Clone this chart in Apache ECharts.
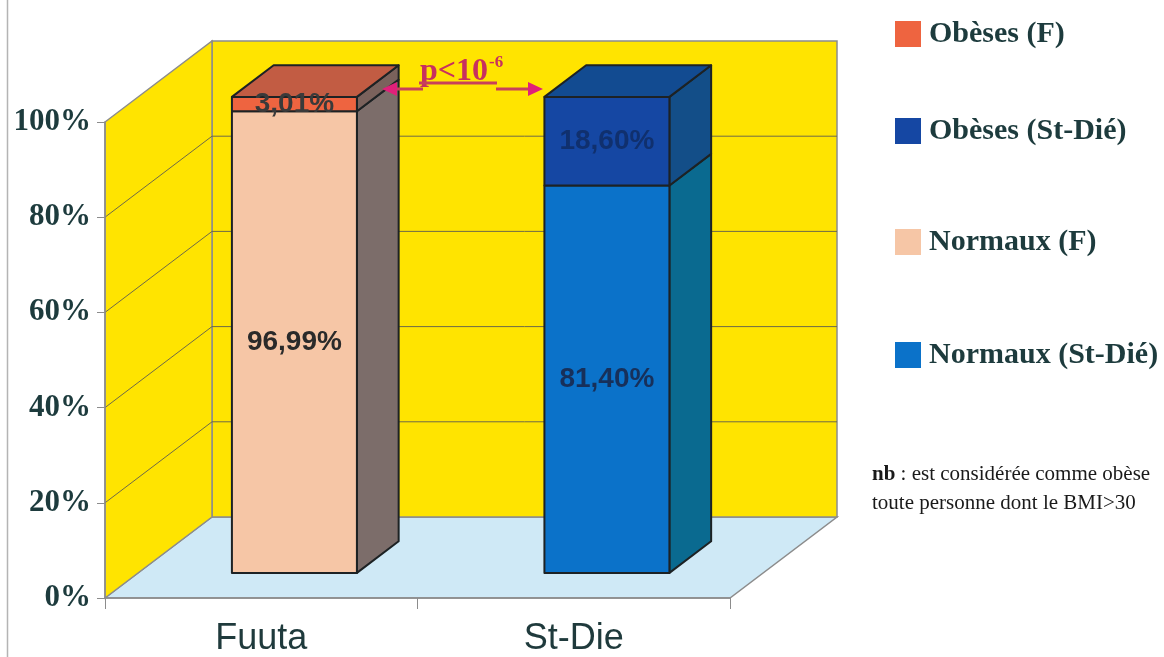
<!DOCTYPE html>
<html>
<head>
<meta charset="utf-8">
<script src="https://cdn.jsdelivr.net/npm/echarts@6/dist/echarts.min.js"></script>
<style>
  html, body { margin: 0; padding: 0; background: #ffffff; }
  #chart { width: 1164px; height: 657px; }
</style>
</head>
<body>
<div id="chart"></div>
<script>
// Share of obese vs normal-weight people, Fuuta and St-Dié
const categories = ['Fuuta', 'St-Die'];
const normaux = [96.99, 81.40];   // % normal weight
const obeses = [3.01, 18.60];     // % obese (BMI > 30)
const yTicks = [0, 20, 40, 60, 80, 100];
const legendNames = ['Obèses (F)', 'Obèses (St-Dié)', 'Normaux (F)', 'Normaux (St-Dié)'];
const noteLines = ['est considérée comme obèse', 'toute personne dont le BMI>30'];
const pText = 'p<10';
const pExp = '-6';

// pseudo-3D projection: full depth of the box, and where the bars sit inside it
const DEPTH = [107, -81];
const BAR_D0 = 0.31, BAR_D1 = 0.70;
const BAR_W = 0.4;

const palette = {
  'Normaux (F)':      { front: '#F6C6A6', side: '#7C6D6A', top: '#C25C43', label: '#2a2a2a' },
  'Obèses (F)':       { front: '#EE6440', side: '#7A625C', top: '#C25C43', label: '#3a3a3a' },
  'Normaux (St-Dié)': { front: '#0B72C9', side: '#0A6A90', top: '#124B91', label: '#17305a' },
  'Obèses (St-Dié)':  { front: '#1547A3', side: '#134E88', top: '#124B91', label: '#10306e' }
};

function fmtPct(v) { return v.toFixed(2).replace('.', ',') + '%'; }

function segmentRenderer(name) {
  const col = palette[name];
  return function (params, api) {
    const cat = api.value(0), start = api.value(1), val = api.value(2), isTop = api.value(3) === 1;
    const band = api.size([1, 0])[0];
    const w = band * BAR_W;
    const p0 = api.coord([cat, start]);
    const p1 = api.coord([cat, start + val]);
    const ox = DEPTH[0] * BAR_D0, oy = DEPTH[1] * BAR_D0;
    const dx = DEPTH[0] * (BAR_D1 - BAR_D0), dy = DEPTH[1] * (BAR_D1 - BAR_D0);
    const xl = p0[0] - w / 2 + ox, xr = p0[0] + w / 2 + ox;
    const yb = p0[1] + oy, yt = p1[1] + oy;
    const stroke = { stroke: '#1d2224', lineWidth: 2, lineJoin: 'round' };
    const children = [
      { type: 'polygon', shape: { points: [[xr, yb], [xr + dx, yb + dy], [xr + dx, yt + dy], [xr, yt]] },
        style: Object.assign({ fill: col.side }, stroke) },
      { type: 'polygon', shape: { points: [[xl, yb], [xr, yb], [xr, yt], [xl, yt]] },
        style: Object.assign({ fill: col.front }, stroke) }
    ];
    if (isTop) {
      children.push({ type: 'polygon', shape: { points: [[xl, yt], [xr, yt], [xr + dx, yt + dy], [xl + dx, yt + dy]] },
        style: Object.assign({ fill: col.top }, stroke) });
    }
    children.push({ type: 'text', z2: 10, style: {
      text: fmtPct(val), x: (xl + xr) / 2, y: (yb + yt) / 2,
      align: 'center', verticalAlign: 'middle',
      font: 'bold 28px "Liberation Sans", Arial, sans-serif', fill: col.label } });
    return { type: 'group', children: children };
  };
}

function wallsRenderer(params, api) {
  const cs = params.coordSys;
  const x0 = cs.x, x1 = cs.x + cs.width, yb = cs.y + cs.height, yt = cs.y;
  const [dx, dy] = DEPTH;
  const edge = { stroke: '#8c8c8c', lineWidth: 1.5 };
  const children = [
    // floor
    { type: 'polygon', shape: { points: [[x0, yb], [x1, yb], [x1 + dx, yb + dy], [x0 + dx, yb + dy]] },
      style: Object.assign({ fill: '#CFE9F6' }, edge) },
    // back wall
    { type: 'polygon', shape: { points: [[x0 + dx, yb + dy], [x1 + dx, yb + dy], [x1 + dx, yt + dy], [x0 + dx, yt + dy]] },
      style: Object.assign({ fill: '#FFE400' }, edge) },
    // side wall
    { type: 'polygon', shape: { points: [[x0, yb], [x0 + dx, yb + dy], [x0 + dx, yt + dy], [x0, yt]] },
      style: Object.assign({ fill: '#FFE400' }, edge) }
  ];
  yTicks.forEach(function (v) {
    if (v === 0 || v === 100) return;
    const y = api.coord([0, v])[1];
    children.push({ type: 'polyline', shape: { points: [[x0, y], [x0 + dx, y + dy], [x1 + dx, y + dy]] },
      style: { stroke: '#6e6a48', lineWidth: 1, fill: null } });
  });
  return { type: 'group', children: children };
}

const segments = [
  { name: 'Normaux (F)',      data: [[0, 0, normaux[0], 0]] },
  { name: 'Obèses (F)',       data: [[0, normaux[0], obeses[0], 1]] },
  { name: 'Normaux (St-Dié)', data: [[1, 0, normaux[1], 0]] },
  { name: 'Obèses (St-Dié)',  data: [[1, normaux[1], obeses[1], 1]] }
];

const legendTops = [19, 116, 227, 340];

const option = {
  animation: false,
  backgroundColor: '#ffffff',
  grid: { left: 105, top: 122, width: 625, height: 477, containLabel: false },
  xAxis: {
    type: 'category', data: categories, z: 10,
    axisLine: { lineStyle: { color: '#8c8c8c', width: 1.5 } },
    axisTick: { show: true, length: 11, lineStyle: { color: '#8c8c8c' } },
    axisLabel: { margin: 23, fontFamily: '"Liberation Sans", Arial, sans-serif', fontSize: 36, color: '#1f3a3c' },
    splitLine: { show: false }
  },
  yAxis: {
    type: 'value', min: 0, max: 100, interval: 20, z: 10,
    axisLine: { show: true, lineStyle: { color: '#8c8c8c', width: 1.5 } },
    axisTick: { show: true, length: 8, lineStyle: { color: '#8c8c8c' } },
    axisLabel: { formatter: '{value}%', margin: 14, fontFamily: '"Liberation Serif", "Times New Roman", serif',
      fontWeight: 'bold', fontSize: 31, color: '#1d3b3d' },
    splitLine: { show: false }
  },
  legend: legendNames.map(function (name, i) {
    return {
      data: [{ name: name, icon: 'rect', itemStyle: { color: palette[name].front } }],
      left: 895, top: legendTops[i], padding: 0, itemWidth: 26, itemHeight: 26,
      selectedMode: false,
      textStyle: { fontFamily: '"Liberation Serif", "Times New Roman", serif', fontWeight: 'bold',
        fontSize: 30, color: '#1d3b3d', padding: [0, 0, 0, 3] }
    };
  }),
  series: [
    { type: 'custom', name: 'walls', silent: true, z: 1, renderItem: wallsRenderer, data: [[0]] }
  ].concat(segments.map(function (s) {
    return { type: 'custom', name: s.name, z: 3, silent: true, renderItem: segmentRenderer(s.name),
      itemStyle: { color: palette[s.name].front }, data: s.data };
  })),
  graphic: [
    // frame line at the left edge
    { type: 'line', shape: { x1: 7.5, y1: 0, x2: 7.5, y2: 657 }, style: { stroke: '#b4b4b4', lineWidth: 1.5 } },
    // significance annotation between the two bars
    { type: 'text', x: 420, y: 56, z: 20, style: { text: pText, font: 'bold 32px "Liberation Serif", serif',
      fill: '#C8305E', verticalAlign: 'top' } },
    { type: 'text', x: 489, y: 54, z: 20, style: { text: pExp, font: 'bold 17px "Liberation Serif", serif',
      fill: '#C8305E', verticalAlign: 'top' } },
    { type: 'line', z: 20, shape: { x1: 419, y1: 83, x2: 497, y2: 83 }, style: { stroke: '#C8405A', lineWidth: 3 } },
    { type: 'line', z: 20, shape: { x1: 392, y1: 89, x2: 423, y2: 89 }, style: { stroke: '#C8405A', lineWidth: 3 } },
    { type: 'line', z: 20, shape: { x1: 496, y1: 89, x2: 532, y2: 89 }, style: { stroke: '#C8405A', lineWidth: 3 } },
    { type: 'polygon', z: 20, shape: { points: [[382, 89], [397, 82], [397, 96]] }, style: { fill: '#E0207A' } },
    { type: 'polygon', z: 20, shape: { points: [[543, 89], [528, 82], [528, 96]] }, style: { fill: '#E0207A' } },
    // note about the obesity threshold
    { type: 'text', left: 872, top: 464, style: { rich: {
        b: { font: 'bold 21px "Liberation Serif", serif', fill: '#1a1a1a' },
        n: { font: '21px "Liberation Serif", serif', fill: '#1a1a1a' } },
      text: '{b|nb}{n| : ' + noteLines[0] + '}' } },
    { type: 'text', left: 872, top: 493, style: { text: noteLines[1], font: '21px "Liberation Serif", serif', fill: '#1a1a1a' } }
  ]
};

const chart = echarts.init(document.getElementById('chart'), null, { renderer: 'canvas' });
chart.setOption(option);
</script>
</body>
</html>
